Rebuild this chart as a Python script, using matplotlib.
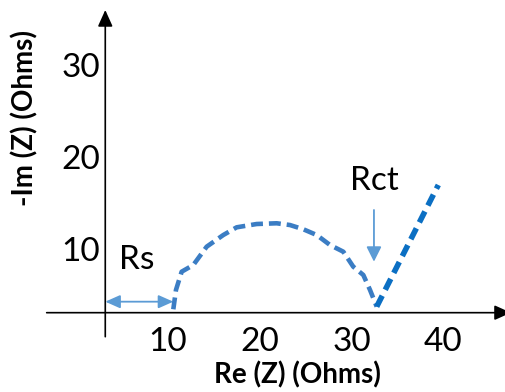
import matplotlib
matplotlib.use("Agg")
import matplotlib.pyplot as plt

# ---- data (Nyquist sketch, values in Ohms) ----
arc_re = [10.58, 10.87, 11.49, 12.76, 14.22, 16.03, 17.49, 19.67, 21.85, 23.30,
          24.75, 26.22, 27.67, 29.12, 30.20, 31.30, 32.03, 32.76]
arc_im = [3.39, 5.50, 7.49, 8.22, 10.22, 11.49, 12.33, 12.69, 12.77, 12.58,
          12.12, 11.49, 10.40, 9.67, 8.04, 7.13, 5.50, 3.68]
tail_re = [32.76, 39.48]
tail_im = [3.68, 16.95]
x_ticks = [10, 20, 30, 40]
y_ticks = [10, 20, 30]
x_tick_labels = ["10", "20", "30", "40"]
y_tick_labels = ["10", "20", "30"]
rs_range = [3.16, 10.58]
rct_at = 32.46

plt.rcParams['font.family'] = ['Lato', 'DejaVu Sans']

fig = plt.figure(figsize=(5.06, 3.92), dpi=100)
ax = fig.add_axes([0, 0, 1, 1])
ax.set_xlim(-8.32, 46.86)
ax.set_ylim(-5.63, 37.12)

axis_x0 = 3.16
axis_y0 = 3.02

for s in ['top', 'right']:
    ax.spines[s].set_visible(False)
ax.spines['left'].set_position(('data', axis_x0))
ax.spines['bottom'].set_position(('data', axis_y0))
ax.spines['left'].set_visible(False)
ax.spines['bottom'].set_visible(False)

ax.set_xticks(x_ticks)
ax.set_xticklabels(x_tick_labels)
ax.set_yticks(y_ticks)
ax.set_yticklabels(y_tick_labels)
ax.tick_params(axis='x', length=0, pad=10, labelsize=24, colors='black')
ax.tick_params(axis='y', length=0, pad=4, labelsize=24, colors='black')

# axis lines with arrowheads
ax.annotate('', xy=(axis_x0, 36.03), xytext=(axis_x0, 0.40),
            arrowprops=dict(arrowstyle='-|>,head_length=1.0,head_width=0.45',
                            color='black', lw=1.2, shrinkA=0, shrinkB=0,
                            mutation_scale=10), annotation_clip=False)
ax.annotate('', xy=(47.4, axis_y0), xytext=(-3.23, axis_y0),
            arrowprops=dict(arrowstyle='-|>,head_length=1.0,head_width=0.45',
                            color='black', lw=1.2, shrinkA=0, shrinkB=0,
                            mutation_scale=10), annotation_clip=False)

# curves
ax.plot(arc_re, arc_im, color='#3B7DC4', lw=3.3, linestyle=(0, (2.6, 1.3)),
        dash_capstyle='butt', solid_joinstyle='round')
ax.plot(tail_re, tail_im, color='#0B6FC3', lw=4.0, linestyle=(0, (2.2, 1.2)),
        dash_capstyle='butt')

# Rs arrow
rs_y = 4.22
ax.annotate('', xy=(rs_range[1], rs_y), xytext=(rs_range[0], rs_y),
            arrowprops=dict(arrowstyle='<|-|>,head_length=0.9,head_width=0.4',
                            color='#5B9BD5', lw=1.3, shrinkA=0, shrinkB=0,
                            mutation_scale=10))
ax.text(6.6, 8.8, 'Rs', fontsize=24, ha='center', va='center', color='black')

# Rct arrow
ax.annotate('', xy=(rct_at, 8.58), xytext=(rct_at, 14.22),
            arrowprops=dict(arrowstyle='-|>,head_length=0.9,head_width=0.45',
                            color='#5B9BD5', lw=1.3, shrinkA=0, shrinkB=0,
                            mutation_scale=10))
ax.text(32.5, 17.4, 'Rct', fontsize=24, ha='center', va='center', color='black')

# axis titles
fig.text(297 / 506, 1 - 375 / 392, 'Re (Z) (Ohms)', fontsize=20, fontweight='bold',
         ha='center', va='center')
fig.text(25 / 506, 1 - 118 / 392, '-Im (Z) (Ohms)', fontsize=20, fontweight='bold',
         ha='center', va='center', rotation=90)

fig.savefig('out.png', dpi=100)
